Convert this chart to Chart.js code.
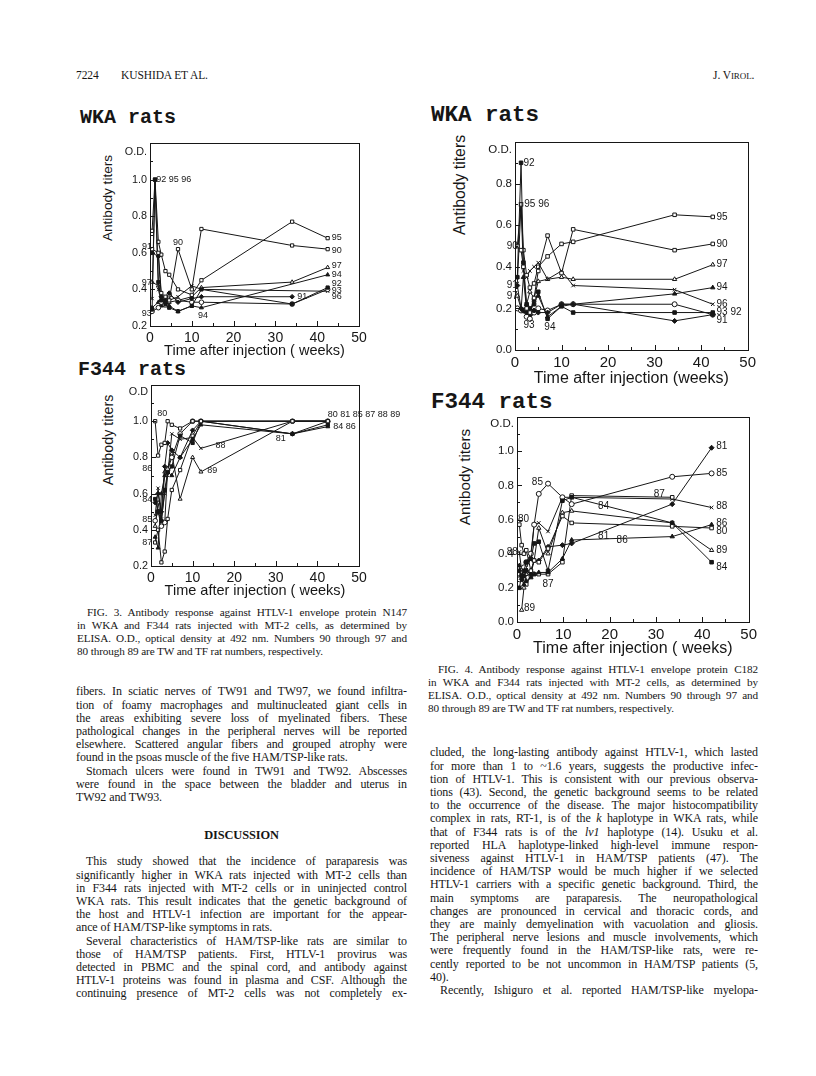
<!DOCTYPE html>
<html>
<head>
<meta charset="utf-8">
<script src="https://cdn.jsdelivr.net/npm/chart.js@4.4.0/dist/chart.umd.min.js"></script>
<style>
body { margin: 0; background: #fff; width: 816px; height: 1076px; position: relative; overflow: hidden; color: #161616; font-family: "Liberation Serif", "DejaVu Serif", serif; }
.ln { position: absolute; white-space: nowrap; letter-spacing: -0.1px; }
.hd { position: absolute; font-family: "Liberation Mono", "DejaVu Sans Mono", monospace; font-weight: bold; white-space: nowrap; line-height: 1; }
.yt { position: absolute; font-family: "Liberation Sans", Arial, sans-serif; white-space: nowrap; transform: translate(-50%, -50%) rotate(-90deg); line-height: 1; }
canvas { position: absolute; }
</style>
</head>
<body>

<div class="ln" style="left:76px;top:69px;font-size:11.5px">7224</div>
<div class="ln" style="left:121px;top:69px;font-size:11.5px">KUSHIDA ET AL.</div>
<div class="ln" style="left:713px;top:69px;font-size:11.5px">J. V<span style="font-size:9px">IROL</span>.</div>

<div class="hd" style="left:80px;top:108px;font-size:20px">WKA rats</div>
<div class="hd" style="left:78px;top:360px;font-size:20px">F344 rats</div>
<div class="hd" style="left:431px;top:104px;font-size:22.5px">WKA rats</div>
<div class="hd" style="left:431px;top:391px;font-size:22.5px">F344 rats</div>

<div class="yt" style="left:108px;top:198px;font-size:13.6px">Antibody titers</div>
<div class="yt" style="left:108px;top:440px;font-size:14.3px">Antibody titers</div>
<div class="yt" style="left:460px;top:185px;font-size:15.8px">Antibody titers</div>
<div class="yt" style="left:465px;top:477px;font-size:15.2px">Antibody titers</div>

<canvas id="fig3wka" width="304" height="232" style="left:96px;top:128px"></canvas>
<canvas id="fig3f344" width="303" height="230" style="left:97px;top:370px"></canvas>
<canvas id="fig4wka" width="308" height="262" style="left:452px;top:126px"></canvas>
<canvas id="fig4f344" width="305" height="262" style="left:456px;top:400px"></canvas>

<script>
// values (O.D. at 492 nm), one array per rat

// Fig. 3, WKA rats (N147)
var fig3WkaWeeks = [0.5, 1.2, 2, 2.7, 3.7, 4.6, 6.7, 10, 12.3, 34, 42.5];
var fig3Wka90 = [0.62, null, 0.60, 0.38, 0.36, 0.34, 0.62, 0.40, 0.73, 0.64, 0.62];
var fig3Wka91 = [0.60, null, 0.58, 0.36, 0.34, 0.38, 0.33, 0.35, 0.36, 0.36, null];
var fig3Wka92 = [0.29, 1.00, 0.44, 0.34, 0.32, 0.30, 0.28, 0.31, 0.40, 0.32, 0.41];
var fig3Wka93 = [0.28, null, 0.30, 0.33, 0.35, 0.37, 0.34, 0.33, 0.33, 0.32, 0.40];
var fig3Wka94 = [0.30, null, 0.33, 0.31, 0.34, 0.31, 0.28, 0.31, 0.30, null, 0.48];
var fig3Wka95 = [0.72, 1.00, 0.66, 0.59, 0.50, 0.48, 0.40, 0.37, 0.45, 0.77, 0.68];
var fig3Wka96 = [0.35, 1.00, 0.40, 0.33, 0.36, 0.34, 0.36, 0.42, 0.40, null, 0.39];
var fig3Wka97 = [0.44, null, 0.42, 0.36, 0.31, 0.33, 0.34, 0.36, 0.41, 0.44, 0.52];

// Fig. 3, F344 rats (N147)
var fig3F344Weeks = [1, 1.7, 2.5, 3.3, 4, 5, 7, 10, 12, 34, 42.5];
var fig3F34480 = [1.00, 0.81, 0.87, 0.88, 1.00, 0.98, 0.96, 1.00, 1.00, 1.00, 1.00];
var fig3F34481 = [0.55, 0.60, 0.50, 0.75, 0.88, 0.84, 0.80, 0.95, 1.00, 0.93, 1.00];
var fig3F34484 = [0.57, 0.50, 0.45, 0.62, 0.72, 0.75, 0.92, 0.88, 1.00, 0.93, 0.98];
var fig3F34485 = [0.45, 0.50, 0.42, 0.44, 0.73, 0.80, 0.93, 1.00, 1.00, 1.00, 1.00];
var fig3F34486 = [0.36, 0.30, 0.60, 0.70, 0.72, 0.70, 0.80, 0.90, 0.98, 0.93, 0.97];
var fig3F34487 = [0.33, 0.40, 0.22, 0.28, 0.46, 0.62, 0.73, 0.92, 1.00, 1.00, 1.00];
var fig3F34488 = [0.48, 0.63, 0.46, 0.60, 0.70, 0.93, 0.90, 0.91, 0.85, 1.00, 1.00];
var fig3F34489 = [0.42, 0.55, 0.45, 0.72, 0.74, 0.82, 0.57, 0.80, 0.72, 1.00, 1.00];

// Fig. 4, WKA rats (C182)
var fig4WkaWeeks = [0.5, 1.3, 1.8, 2.5, 3.2, 4.1, 5, 7, 10, 12.5, 34.3, 42.5];
var fig4Wka90 = [0.50, 0.48, 0.40, 0.20, 0.18, 0.25, 0.38, 0.55, 0.37, 0.58, 0.48, 0.51];
var fig4Wka91 = [0.31, 0.20, 0.19, 0.18, 0.18, 0.19, 0.18, 0.18, 0.22, 0.22, 0.14, 0.17];
var fig4Wka92 = [0.35, 0.90, 0.42, 0.22, 0.20, 0.22, 0.28, 0.15, 0.21, 0.18, 0.18, 0.18];
var fig4Wka93 = [0.20, 0.19, 0.19, 0.16, 0.15, 0.18, 0.20, 0.19, 0.22, 0.22, 0.22, 0.17];
var fig4Wka94 = [0.20, 0.19, 0.35, 0.19, 0.17, 0.24, 0.26, 0.16, 0.21, 0.22, 0.27, 0.30];
var fig4Wka95 = [0.50, 0.70, 0.48, 0.36, 0.30, 0.32, 0.40, 0.45, 0.51, 0.52, 0.65, 0.64];
var fig4Wka96 = [0.32, 0.70, 0.38, 0.35, 0.38, 0.40, 0.42, 0.34, 0.38, 0.31, 0.29, 0.22];
var fig4Wka97 = [0.26, 0.20, 0.19, 0.22, 0.28, 0.25, 0.33, 0.34, 0.35, 0.34, 0.34, 0.41];

// Fig. 4, F344 rats (C182)
var fig4F344Weeks = [0.5, 1, 1.5, 2, 3, 3.7, 4.7, 6.7, 9.8, 11.8, 33.5, 42];
var fig4F34480 = [0.57, 0.45, 0.40, 0.42, 0.30, 0.36, 0.35, 0.43, 0.62, 0.58, 0.56, 0.55];
var fig4F34481 = [0.30, 0.25, 0.27, 0.30, 0.28, 0.36, 0.36, 0.44, 0.45, 0.46, 0.69, 1.02];
var fig4F34484 = [0.20, 0.27, 0.30, 0.35, 0.37, 0.46, 0.47, 0.30, 0.71, 0.73, 0.58, 0.35];
var fig4F34485 = [0.25, 0.30, 0.32, 0.35, 0.40, 0.57, 0.75, 0.81, 0.73, 0.69, 0.85, 0.87];
var fig4F34486 = [0.33, 0.25, 0.22, 0.24, 0.26, 0.28, 0.29, 0.29, 0.37, 0.48, 0.50, 0.57];
var fig4F34487 = [0.26, 0.30, 0.25, 0.22, 0.27, 0.28, 0.28, 0.28, 0.35, 0.74, 0.73, null];
var fig4F34488 = [0.41, 0.30, 0.25, 0.32, 0.37, 0.57, 0.58, 0.53, 0.73, 0.73, 0.72, 0.67];
var fig4F34489 = [null, 0.07, 0.20, 0.28, 0.30, 0.36, 0.55, 0.40, 0.64, 0.65, 0.58, 0.42];

var weekTicks = [0, 10, 20, 30, 40, 50];

// marker look per line: [pointStyle, filled]
var markers = [['rect', false], ['rectRot', true], ['rect', true], ['circle', false],
               ['triangle', true], ['rect', false], ['crossRot', false], ['triangle', false]];

// draws the box, the inward tick marks, the "O.D." tag and the rat numbers
var framePlugin = {
    id: 'frame',
    afterDraw: function(chart, args, opts) {
        var ctx = chart.ctx;
        var a = chart.chartArea;
        var xs = chart.scales.x, ys = chart.scales.y;
        ctx.save();
        ctx.strokeStyle = '#161616';
        ctx.lineWidth = 1;
        ctx.strokeRect(Math.round(a.left) + 0.5, Math.round(a.top) + 0.5,
            Math.round(a.right - a.left), Math.round(a.bottom - a.top));
        ctx.beginPath();
        for (var v = 0; v <= 50; v += 5) {
            var px = Math.round(xs.getPixelForValue(v)) + 0.5;
            ctx.moveTo(px, a.bottom);
            ctx.lineTo(px, a.bottom - (v % 10 == 0 ? 5 : 3));
        }
        for (var k = 0; k <= 12; k++) {
            var yv = k / 10;
            if (yv < ys.min - 1e-6 || yv > ys.max + 1e-6) continue;
            var py = Math.round(ys.getPixelForValue(yv)) + 0.5;
            ctx.moveTo(a.left, py);
            ctx.lineTo(a.left + (k % 2 == 0 ? 5 : 3), py);
        }
        ctx.stroke();

        ctx.fillStyle = '#161616';
        ctx.font = opts.tickFont;
        ctx.textAlign = 'right';
        ctx.textBaseline = 'middle';
        ctx.fillText(opts.odText, a.left - 3, ys.getPixelForValue(opts.od));

        ctx.font = opts.labelFont;
        opts.labels.forEach(function(l) {
            ctx.textAlign = l[3] || 'left';
            ctx.fillText(l[0], xs.getPixelForValue(l[1]), ys.getPixelForValue(l[2]));
        });
        ctx.restore();
    }
};

function makeChart(id, weeks, rats, series, cfg) {
    var datasets = series.map(function(vals, i) {
        var m = markers[i % markers.length];
        return {
            label: rats[i],
            data: weeks.map(function(w, j) { return { x: w, y: vals[j] }; }),
            borderColor: '#161616',
            borderWidth: 1,
            pointStyle: m[0],
            pointRadius: cfg.pointRadius,
            pointBorderWidth: 1,
            pointBorderColor: '#161616',
            pointBackgroundColor: m[1] ? '#161616' : '#ffffff',
            spanGaps: true,
            tension: 0
        };
    });

    var yLabelled = cfg.yLabelled;
    return new Chart(document.getElementById(id), {
        type: 'line',
        data: { datasets: datasets },
        options: {
            responsive: false,
            animation: false,
            layout: { padding: cfg.padding },
            plugins: {
                legend: { display: false },
                tooltip: { enabled: false },
                frame: {
                    od: cfg.od,
                    odText: cfg.odText,
                    tickFont: cfg.yFont + 'px "Liberation Sans", Arial, sans-serif',
                    labelFont: cfg.labelFont + 'px "Liberation Sans", Arial, sans-serif',
                    labels: cfg.labels
                }
            },
            scales: {
                x: {
                    type: 'linear',
                    min: 0,
                    max: 50,
                    afterBuildTicks: function(s) {
                        s.ticks = weekTicks.map(function(v) { return { value: v }; });
                    },
                    afterFit: function(s) { s.height = cfg.xHeight; },
                    grid: { display: false, drawTicks: false },
                    border: { display: false },
                    ticks: {
                        color: '#161616',
                        padding: cfg.xTickPad,
                        maxRotation: 0,
                        font: { family: '"Liberation Sans", Arial, sans-serif', size: cfg.xFont }
                    },
                    title: {
                        display: true,
                        text: cfg.xTitle,
                        color: '#161616',
                        padding: { top: 0, bottom: cfg.xTitlePad },
                        font: { family: '"Liberation Sans", Arial, sans-serif', size: cfg.xTitleFont }
                    }
                },
                y: {
                    type: 'linear',
                    min: cfg.yMin,
                    max: cfg.yMax,
                    afterBuildTicks: function(s) {
                        s.ticks = yLabelled.map(function(v) { return { value: v }; });
                    },
                    afterFit: function(s) { s.width = cfg.yWidth; },
                    grid: { display: false, drawTicks: false },
                    border: { display: false },
                    ticks: {
                        color: '#161616',
                        padding: 3,
                        callback: function(v) { return v.toFixed(1); },
                        font: { family: '"Liberation Sans", Arial, sans-serif', size: cfg.yFont }
                    }
                }
            }
        },
        plugins: [framePlugin]
    });
}

makeChart('fig3wka', fig3WkaWeeks, ['90', '91', '92', '93', '94', '95', '96', '97'],
    [fig3Wka90, fig3Wka91, fig3Wka92, fig3Wka93, fig3Wka94, fig3Wka95, fig3Wka96, fig3Wka97], {
    padding: { top: 15, right: 41, bottom: 0, left: 0 },
    yWidth: 54, xHeight: 34, xTickPad: 4, xTitlePad: 0,
    yMin: 0.2, yMax: 1.2, yLabelled: [0.2, 0.4, 0.6, 0.8, 1.0],
    od: 1.15, odText: 'O.D.', yFont: 10.8, xFont: 14, xTitleFont: 14.5, labelFont: 9, pointRadius: 2.3,
    xTitle: 'Time after injection ( weeks)',
    labels: [
        ['92 95 96', 1.5, 1.0], ['91', 0.5, 0.635, 'right'], ['90', 5.5, 0.655], ['97', 0.4, 0.44, 'right'],
        ['93', 0.4, 0.27, 'right'], ['94', 11.5, 0.255], ['95', 43.5, 0.685], ['90', 43.5, 0.615],
        ['97', 43.5, 0.53], ['94', 43.5, 0.48], ['92', 43.5, 0.43], ['93', 43.5, 0.395],
        ['96', 43.5, 0.36], ['91', 35.2, 0.36]
    ]
});

makeChart('fig3f344', fig3F344Weeks, ['80', '81', '84', '85', '86', '87', '88', '89'],
    [fig3F34480, fig3F34481, fig3F34484, fig3F34485, fig3F34486, fig3F34487, fig3F34488, fig3F34489], {
    padding: { top: 15, right: 41, bottom: 0, left: 0 },
    yWidth: 54, xHeight: 34, xTickPad: 4, xTitlePad: 0,
    yMin: 0.2, yMax: 1.2, yLabelled: [0.2, 0.4, 0.6, 0.8, 1.0],
    od: 1.16, odText: 'O.D', yFont: 10.8, xFont: 14, xTitleFont: 14.5, labelFont: 9, pointRadius: 2.3,
    xTitle: 'Time after injection ( weeks)',
    labels: [
        ['80 81 85 87 88 89', 42.5, 1.035], ['84 86', 43.8, 0.97], ['81', 30, 0.905], ['88', 15.5, 0.865],
        ['89', 13.5, 0.73], ['80', 1.5, 1.045], ['86', 0.3, 0.74, 'right'], ['84', 0.3, 0.57, 'right'],
        ['85', 0.3, 0.455, 'right'], ['87', 0.3, 0.33, 'right']
    ]
});

makeChart('fig4wka', fig4WkaWeeks, ['90', '91', '92', '93', '94', '95', '96', '97'],
    [fig4Wka90, fig4Wka91, fig4Wka92, fig4Wka93, fig4Wka94, fig4Wka95, fig4Wka96, fig4Wka97], {
    padding: { top: 16, right: 9, bottom: 0, left: 0 },
    yWidth: 63, xHeight: 38, xTickPad: 4, xTitlePad: 0,
    yMin: 0, yMax: 1.0, yLabelled: [0, 0.2, 0.4, 0.6, 0.8],
    od: 0.96, odText: 'O.D.', yFont: 11.5, xFont: 15, xTitleFont: 16, labelFont: 10, pointRadius: 2.5,
    xTitle: 'Time after injection (weeks)',
    labels: [
        ['92', 1.8, 0.9], ['95 96', 2.0, 0.7], ['90', 0.6, 0.5, 'right'], ['91', 0.6, 0.31, 'right'],
        ['97', 0.6, 0.26, 'right'], ['93', 3.0, 0.12, 'center'], ['94', 7.5, 0.11, 'center'],
        ['95', 43.3, 0.64], ['90', 43.3, 0.51], ['97', 43.3, 0.41], ['94', 43.3, 0.30],
        ['96', 43.3, 0.22], ['93 92', 43.3, 0.18], ['91', 43.3, 0.145]
    ]
});

makeChart('fig4f344', fig4F344Weeks, ['80', '81', '84', '85', '86', '87', '88', '89'],
    [fig4F34480, fig4F34481, fig4F34484, fig4F34485, fig4F34486, fig4F34487, fig4F34488, fig4F34489], {
    padding: { top: 17, right: 8, bottom: 0, left: 0 },
    yWidth: 61, xHeight: 40, xTickPad: 4, xTitlePad: 4,
    yMin: 0, yMax: 1.2, yLabelled: [0, 0.2, 0.4, 0.6, 0.8, 1.0],
    od: 1.16, odText: 'O.D.', yFont: 11.5, xFont: 15, xTitleFont: 16, labelFont: 10, pointRadius: 2.5,
    xTitle: 'Time after injection ( weeks)',
    labels: [
        ['81', 43, 1.03], ['85', 43, 0.87], ['88', 43, 0.68], ['86', 43, 0.58], ['80', 43, 0.53],
        ['89', 43, 0.42], ['84', 43, 0.32], ['85', 5.6, 0.82, 'right'], ['84', 17.5, 0.68],
        ['87', 29.5, 0.745], ['81', 17.5, 0.5], ['86', 21.5, 0.48], ['80', 0.2, 0.6],
        ['88', 0.2, 0.41, 'right'], ['87', 5.5, 0.22], ['89', 1.5, 0.08]
    ]
});

// page text, one div per printed line; "@" marks a line that is not justified, ">" an indented one
function addText(left, top, width, size, lead, lines) {
    lines.forEach(function(s, i) {
        var last = s.charAt(0) === '@';
        if (last) s = s.slice(1);
        var indent = s.charAt(0) === '>' ? 10 : 0;
        if (indent) s = s.slice(1);
        var d = document.createElement('div');
        d.className = 'ln';
        d.style.left = (left + indent) + 'px';
        d.style.top = (top + i * lead - lead / 2) + 'px';
        d.style.width = (width - indent) + 'px';
        d.style.fontSize = size + 'px';
        d.style.lineHeight = lead + 'px';
        if (!last) { d.style.textAlign = 'justify'; d.style.textAlignLast = 'justify'; }
        d.innerHTML = s;
        document.body.appendChild(d);
    });
}

addText(77, 612, 330, 11.2, 13, [
    '>FIG. 3. Antibody response against HTLV-1 envelope protein N147',
    'in WKA and F344 rats injected with MT-2 cells, as determined by',
    'ELISA. O.D., optical density at 492 nm. Numbers 90 through 97 and',
    '@80 through 89 are TW and TF rat numbers, respectively.'
]);
addText(76, 692, 331, 12, 13.2, [
    'fibers. In sciatic nerves of TW91 and TW97, we found infiltra-',
    'tion of foamy macrophages and multinucleated giant cells in',
    'the areas exhibiting severe loss of myelinated fibers. These',
    'pathological changes in the peripheral nerves will be reported',
    'elsewhere. Scattered angular fibers and grouped atrophy were',
    '@found in the psoas muscle of the five HAM/TSP-like rats.',
    '>Stomach ulcers were found in TW91 and TW92. Abscesses',
    'were found in the space between the bladder and uterus in',
    '@TW92 and TW93.'
]);
addText(76, 835, 331, 12.4, 14, ['@<div style="text-align:center;font-weight:bold">DISCUSSION</div>']);
addText(76, 862, 331, 12, 13.2, [
    '>This study showed that the incidence of paraparesis was',
    'significantly higher in WKA rats injected with MT-2 cells than',
    'in F344 rats injected with MT-2 cells or in uninjected control',
    'WKA rats. This result indicates that the genetic background of',
    'the host and HTLV-1 infection are important for the appear-',
    '@ance of HAM/TSP-like symptoms in rats.',
    '>Several characteristics of HAM/TSP-like rats are similar to',
    'those of HAM/TSP patients. First, HTLV-1 provirus was',
    'detected in PBMC and the spinal cord, and antibody against',
    'HTLV-1 proteins was found in plasma and CSF. Although the',
    'continuing presence of MT-2 cells was not completely ex-'
]);

addText(428, 669, 330, 11.2, 13, [
    '>FIG. 4. Antibody response against HTLV-1 envelope protein C182',
    'in WKA and F344 rats injected with MT-2 cells, as determined by',
    'ELISA. O.D., optical density at 492 nm. Numbers 90 through 97 and',
    '@80 through 89 are TW and TF rat numbers, respectively.'
]);
addText(430, 753, 328, 12, 13.2, [
    'cluded, the long-lasting antibody against HTLV-1, which lasted',
    'for more than 1 to ~1.6 years, suggests the productive infec-',
    'tion of HTLV-1. This is consistent with our previous observa-',
    'tions (43). Second, the genetic background seems to be related',
    'to the occurrence of the disease. The major histocompatibility',
    'complex in rats, RT-1, is of the <i>k</i> haplotype in WKA rats, while',
    'that of F344 rats is of the <i>lv1</i> haplotype (14). Usuku et al.',
    'reported HLA haplotype-linked high-level immune respon-',
    'siveness against HTLV-1 in HAM/TSP patients (47). The',
    'incidence of HAM/TSP would be much higher if we selected',
    'HTLV-1 carriers with a specific genetic background. Third, the',
    'main symptoms are paraparesis. The neuropathological',
    'changes are pronounced in cervical and thoracic cords, and',
    'they are mainly demyelination with vacuolation and gliosis.',
    'The peripheral nerve lesions and muscle involvements, which',
    'were frequently found in the HAM/TSP-like rats, were re-',
    'cently reported to be not uncommon in HAM/TSP patients (5,',
    '@40).',
    '>Recently, Ishiguro et al. reported HAM/TSP-like myelopa-'
]);
</script>
</body>
</html>
